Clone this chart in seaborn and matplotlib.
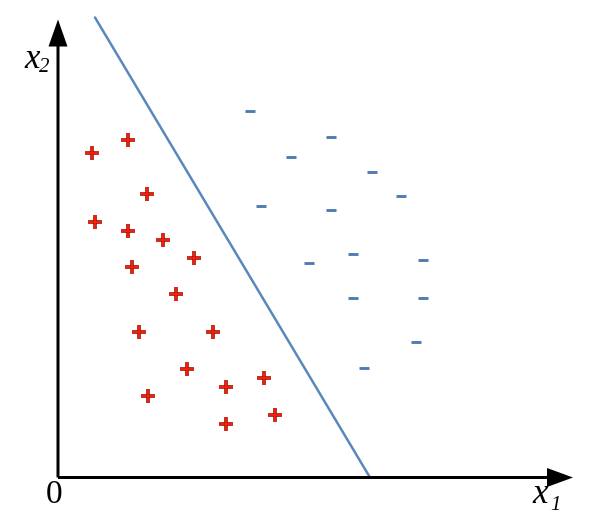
import matplotlib
matplotlib.use("Agg")
import matplotlib.pyplot as plt
import seaborn as sns
import pandas as pd

# Data (coordinates relative to the origin of the axes)
plus_x = [34, 70, 89, 37, 70, 105, 136, 74, 118, 81, 155, 129, 90, 168, 206, 168, 217]
plus_y = [325, 338, 284, 256, 247, 238, 220, 211, 184, 146, 146, 109, 82, 91, 100, 54, 63]
minus_x = [192, 273, 233, 314, 343, 203, 273, 295, 365, 251, 295, 365, 358, 306]
minus_y = [367, 341, 321, 306, 282, 272, 268, 224, 218, 215, 180, 180, 136, 110]
line_x = [37, 312]
line_y = [460, 0]

sns.set_theme(style="white")
plt.rcParams["font.family"] = ["Liberation Serif", "DejaVu Serif"]
plt.rcParams["text.color"] = "black"

fig = plt.figure(figsize=(6, 5.28), dpi=100)
ax = fig.add_axes([0, 0, 1, 1])
ax.set_xlim(-58, 542)
ax.set_ylim(-50.5, 477.5)
ax.axis("off")

df_plus = pd.DataFrame({"x1": plus_x, "x2": plus_y})
df_minus = pd.DataFrame({"x1": minus_x, "x2": minus_y})
df_line = pd.DataFrame({"x1": line_x, "x2": line_y})

sns.lineplot(data=df_line, x="x1", y="x2", ax=ax, color="#5b88ba", linewidth=1.8,
             sort=False, legend=False, zorder=2)

sns.scatterplot(data=df_plus, x="x1", y="x2", ax=ax, marker="+", s=100,
                color="#9a1005", linewidth=2.6, zorder=3, legend=False)
sns.scatterplot(data=df_plus, x="x1", y="x2", ax=ax, marker="+", s=92,
                color="#f2200a", linewidth=1.4, zorder=4, legend=False)
sns.scatterplot(data=df_minus, x="x1", y="x2", ax=ax, marker="_", s=45,
                color="#4f7db3", linewidth=2.1, zorder=3, legend=False)

# Axes with arrowheads
ax.arrow(0, 0, 515, 0, width=3, head_width=19, head_length=26,
         length_includes_head=True, fc="black", ec="black", lw=0, zorder=5)
ax.arrow(0, 0, 0, 458, width=3, head_width=19, head_length=27,
         length_includes_head=True, fc="black", ec="black", lw=0, zorder=5)

tc = "black"
ax.text(-34, 410, "x", fontsize=25, style="italic", ha="left", va="baseline", color=tc)
ax.text(-19, 405, "2", fontsize=15, style="italic", ha="left", va="baseline", color=tc)
ax.text(474, -25.5, "x", fontsize=25, style="italic", ha="left", va="baseline", color=tc)
ax.text(492, -32.5, "1", fontsize=15, style="italic", ha="left", va="baseline", color=tc)
ax.text(-4, -25.5, "0", fontsize=24, ha="center", va="baseline", color=tc)

fig.savefig("out.png", dpi=100)
